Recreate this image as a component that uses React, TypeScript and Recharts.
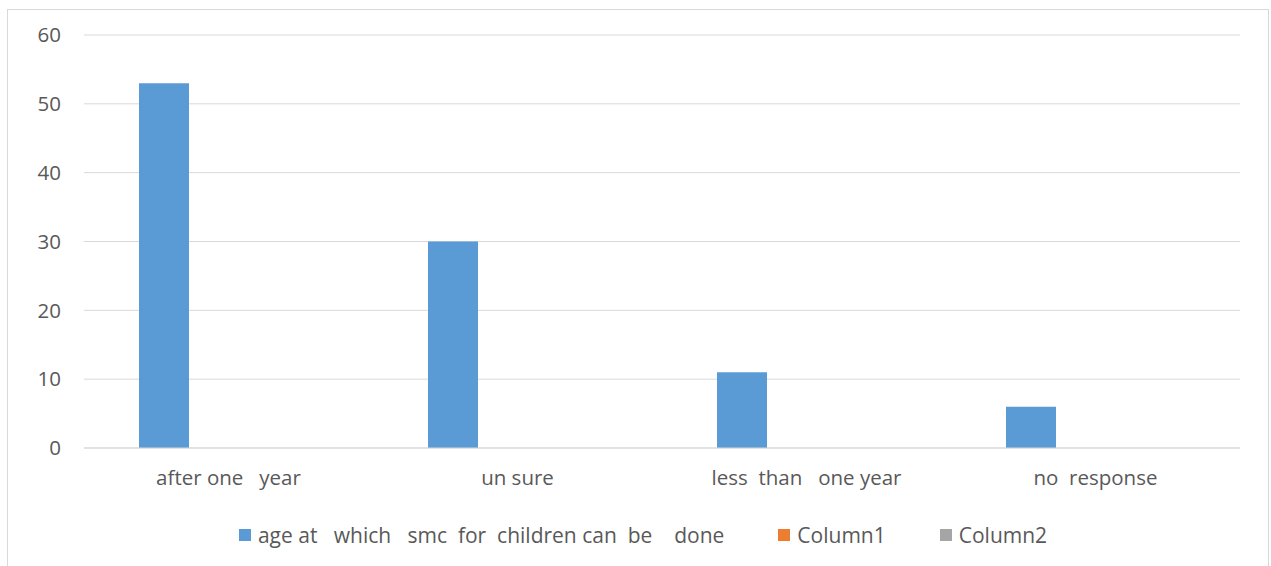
import React from "react";
import { BarChart, Bar, XAxis, YAxis, CartesianGrid, Legend } from "recharts";

const categories = ["after one   year", "un sure", "less  than   one year", "no  response"];
const seriesMain = [53, 30, 11, 6];
const seriesColumn1: (number | null)[] = [null, null, null, null];
const seriesColumn2: (number | null)[] = [null, null, null, null];
const yTicks = [0, 10, 20, 30, 40, 50, 60];

const seriesNames = ["age at   which   smc  for  children can  be    done", "Column1", "Column2"];
const seriesColors = ["#5b9bd5", "#ed7d31", "#a5a5a5"];

const data = categories.map((c, i) => ({
  name: c,
  main: seriesMain[i],
  col1: seriesColumn1[i],
  col2: seriesColumn2[i],
}));

const FONT = "'Open Sans', sans-serif";
const TEXT = "#595959";
const FS = 20.5;

const LegendContent = (props: any) => {
  const payload = [...(props.payload || [])].sort(
    (a: any, b: any) => seriesNames.indexOf(a.value) - seriesNames.indexOf(b.value)
  );
  return (
    <div style={{ display: "flex", justifyContent: "center", alignItems: "center", height: 30, paddingLeft: 46, fontFamily: FONT, fontSize: 21, color: TEXT }}>
      {payload.map((p: any, i: number) => (
        <div key={i} style={{ display: "flex", alignItems: "center", marginRight: i < payload.length - 1 ? 54 : 0 }}>
          <span style={{ display: "inline-block", width: 12, height: 12, background: p.color, marginRight: 7 }} />
          <span style={{ whiteSpace: "pre" }}>{p.value}</span>
        </div>
      ))}
    </div>
  );
};

const XTick = (props: any) => {
  const { x, y, payload } = props;
  return (
    <text x={x} y={y} dy="0.71em" textAnchor="middle" fill={TEXT} fontSize={FS} fontFamily={FONT} style={{ whiteSpace: "pre" }} xmlSpace="preserve">
      {payload.value}
    </text>
  );
};

export default function App() {
  return (
    <div style={{ position: "relative", width: 1271, height: 566, background: "#fff" }}>
      <style>{"body{margin:0;}"}</style>
      <div style={{ position: "absolute", left: 7, top: 9, width: 1262, height: 620, border: "1px solid #d9d9d9", boxSizing: "border-box" }} />
      <div style={{ position: "absolute", left: 0, top: 0 }}>
        <BarChart width={1271} height={566} data={data} margin={{ top: 35, right: 31, left: 0, bottom: 16 }} barSize={50} barGap={15}>
          <CartesianGrid vertical={false} stroke="#d9d9d9" strokeWidth={1} />
          <XAxis
            dataKey="name"
            height={72}
            tickLine={false}
            tickSize={0}
            tickMargin={22}
            axisLine={{ stroke: "#d9d9d9" }}
            tick={<XTick />}
            interval={0}
          />
          <YAxis
            width={84}
            domain={[0, 60]}
            ticks={yTicks}
            tickLine={false}
            tickSize={0}
            tickMargin={23}
            axisLine={false}
            tick={{ fill: TEXT, fontSize: FS, fontFamily: FONT }}
          />
          <Legend verticalAlign="bottom" content={<LegendContent />} />
          <Bar dataKey="main" name={seriesNames[0]} fill={seriesColors[0]} isAnimationActive={false} />
          <Bar dataKey="col1" name={seriesNames[1]} fill={seriesColors[1]} isAnimationActive={false} />
          <Bar dataKey="col2" name={seriesNames[2]} fill={seriesColors[2]} isAnimationActive={false} />
        </BarChart>
      </div>
    </div>
  );
}
